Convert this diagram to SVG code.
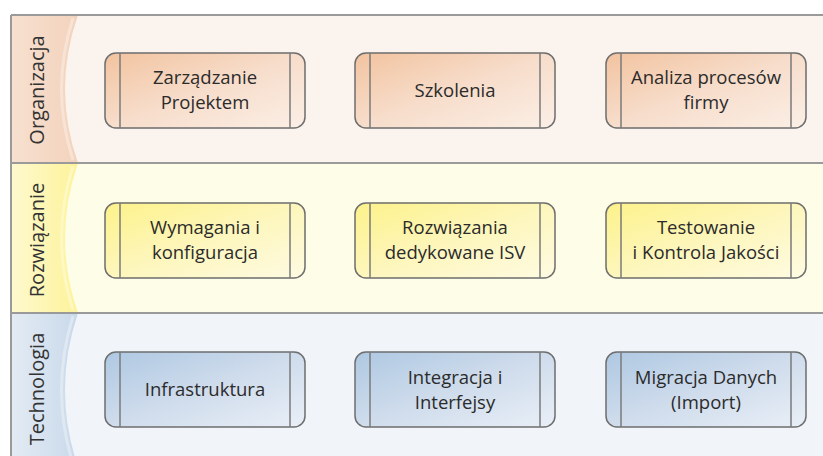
<svg xmlns="http://www.w3.org/2000/svg" width="823" height="456" viewBox="0 0 823 456">
<defs>
<linearGradient id="gO" x1="0" y1="0" x2="1" y2="1"><stop offset="0" stop-color="#f2c39f"/><stop offset="0.5" stop-color="#f7ddcb"/><stop offset="1" stop-color="#fbefe6"/></linearGradient>
<linearGradient id="gY" x1="0" y1="0" x2="1" y2="1"><stop offset="0" stop-color="#fdf28a"/><stop offset="0.5" stop-color="#fdf6bc"/><stop offset="1" stop-color="#fefbe2"/></linearGradient>
<linearGradient id="gB" x1="0" y1="0" x2="1" y2="1"><stop offset="0" stop-color="#aec8e2"/><stop offset="0.5" stop-color="#cfdcec"/><stop offset="1" stop-color="#e9eff7"/></linearGradient>
<linearGradient id="lO" x1="0" y1="0" x2="1" y2="0"><stop offset="0" stop-color="#f7e0d0"/><stop offset="1" stop-color="#f3d3bd"/></linearGradient>
<linearGradient id="lY" x1="0" y1="0" x2="1" y2="0"><stop offset="0" stop-color="#fef9cf"/><stop offset="1" stop-color="#fdf39a"/></linearGradient>
<linearGradient id="lB" x1="0" y1="0" x2="1" y2="0"><stop offset="0" stop-color="#e3ebf4"/><stop offset="1" stop-color="#c9d9ea"/></linearGradient>
</defs>
<style>
.band{stroke:none}
.sep{stroke:#9a9a9a;stroke-width:2;fill:none}
.box{stroke:#6e6e6e;stroke-width:1.5}
.bar{stroke:#7a7a7a;stroke-width:1.5}
.t{font-family:"Open Sans","Liberation Sans",sans-serif;font-size:18.5px;fill:#2b2b2b;text-anchor:middle}
.lab{font-family:"Open Sans","Liberation Sans",sans-serif;font-size:20px;fill:#333;text-anchor:middle}
.hl{fill:none;stroke:#ffffff;stroke-opacity:0.35;stroke-width:3}
</style>
<rect x="0" y="0" width="823" height="456" fill="#ffffff"/>
<g id="band-organizacja">
<rect class="band" x="11" y="15" width="812" height="148" fill="#fbf3ee"/>
<path d="M11,15 H78 Q52,89 78,163 H11 Z" fill="url(#lO)"/>
<path class="hl" d="M73,18 Q50,89 73,160"/>
<text class="lab" transform="translate(44,90) rotate(-90)">Organizacja</text>
</g>
<g id="band-rozwiazanie">
<rect class="band" x="11" y="163" width="812" height="150" fill="#fefde8"/>
<path d="M11,163 H78 Q52,238 78,313 H11 Z" fill="url(#lY)"/>
<path class="hl" d="M73,166 Q50,238 73,310"/>
<text class="lab" transform="translate(44,240) rotate(-90)">Rozwiązanie</text>
</g>
<g id="band-technologia">
<rect class="band" x="11" y="313" width="812" height="143" fill="#f1f5fa"/>
<path d="M11,313 H78 Q52,390 78,467 H11 Z" fill="url(#lB)"/>
<path class="hl" d="M73,316 Q50,390 73,464"/>
<text class="lab" transform="translate(44,389) rotate(-90)">Technologia</text>
</g>
<g id="separators">
<line class="sep" x1="11" y1="15" x2="823" y2="15"/>
<line class="sep" x1="11" y1="163" x2="823" y2="163"/>
<line class="sep" x1="11" y1="313" x2="823" y2="313"/>
<line class="sep" x1="11" y1="15" x2="11" y2="456"/>
</g>
<g id="n1"><rect class="box" x="105" y="53" width="200" height="75" rx="11" fill="url(#gO)"/><line class="bar" x1="120" y1="53" x2="120" y2="128"/><line class="bar" x1="290" y1="53" x2="290" y2="128"/><text class="t" x="205" y="84">Zarządzanie</text><text class="t" x="205" y="109">Projektem</text></g>
<g id="n2"><rect class="box" x="355" y="53" width="200" height="75" rx="11" fill="url(#gO)"/><line class="bar" x1="370" y1="53" x2="370" y2="128"/><line class="bar" x1="540" y1="53" x2="540" y2="128"/><text class="t" x="455" y="97">Szkolenia</text></g>
<g id="n3"><rect class="box" x="606" y="53" width="200" height="75" rx="11" fill="url(#gO)"/><line class="bar" x1="621" y1="53" x2="621" y2="128"/><line class="bar" x1="791" y1="53" x2="791" y2="128"/><text class="t" x="706" y="84">Analiza procesów</text><text class="t" x="706" y="109">firmy</text></g>
<g id="n4"><rect class="box" x="105" y="203" width="200" height="75" rx="11" fill="url(#gY)"/><line class="bar" x1="120" y1="203" x2="120" y2="278"/><line class="bar" x1="290" y1="203" x2="290" y2="278"/><text class="t" x="205" y="234">Wymagania i</text><text class="t" x="205" y="259">konfiguracja</text></g>
<g id="n5"><rect class="box" x="355" y="203" width="200" height="75" rx="11" fill="url(#gY)"/><line class="bar" x1="370" y1="203" x2="370" y2="278"/><line class="bar" x1="540" y1="203" x2="540" y2="278"/><text class="t" x="455" y="234">Rozwiązania</text><text class="t" x="455" y="259">dedykowane ISV</text></g>
<g id="n6"><rect class="box" x="606" y="203" width="200" height="75" rx="11" fill="url(#gY)"/><line class="bar" x1="621" y1="203" x2="621" y2="278"/><line class="bar" x1="791" y1="203" x2="791" y2="278"/><text class="t" x="706" y="234">Testowanie</text><text class="t" x="706" y="259">i Kontrola Jakości</text></g>
<g id="n7"><rect class="box" x="105" y="352" width="200" height="75" rx="11" fill="url(#gB)"/><line class="bar" x1="120" y1="352" x2="120" y2="427"/><line class="bar" x1="290" y1="352" x2="290" y2="427"/><text class="t" x="205" y="396">Infrastruktura</text></g>
<g id="n8"><rect class="box" x="355" y="352" width="200" height="75" rx="11" fill="url(#gB)"/><line class="bar" x1="370" y1="352" x2="370" y2="427"/><line class="bar" x1="540" y1="352" x2="540" y2="427"/><text class="t" x="455" y="384">Integracja i</text><text class="t" x="455" y="409">Interfejsy</text></g>
<g id="n9"><rect class="box" x="606" y="352" width="200" height="75" rx="11" fill="url(#gB)"/><line class="bar" x1="621" y1="352" x2="621" y2="427"/><line class="bar" x1="791" y1="352" x2="791" y2="427"/><text class="t" x="706" y="384">Migracja Danych</text><text class="t" x="706" y="409">(Import)</text></g>
<g id="connectors"/>
</svg>
